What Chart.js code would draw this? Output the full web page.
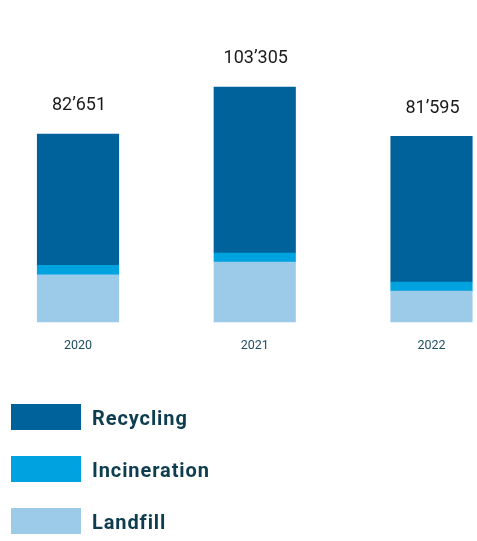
<!DOCTYPE html>
<html>
<head>
<meta charset="utf-8">
<script src="https://cdn.jsdelivr.net/npm/chart.js@4/dist/chart.umd.min.js"></script>
<style>
  html, body { margin: 0; padding: 0; background: #ffffff; }
  #wrap { width: 477px; height: 541px; position: relative; }
</style>
</head>
<body>
<div id="wrap"><canvas id="waste"></canvas></div>
<script>
// Waste by disposal route, tonnes per year
const years = ['2020', '2021', '2022'];
const landfill = [20750, 26360, 13550];
const incineration = [4150, 3970, 3970];
const recycling = [57751, 72975, 64075];

const seriesNames = ['Recycling', 'Incineration', 'Landfill'];
const seriesColors = ['#00629b', '#00a3e0', '#9ccbea'];

function fmt(n) {
  return String(n).replace(/\B(?=(\d{3})+(?!\d))/g, '\u2019');
}

// Totals above each stack
const totalLabels = {
  id: 'totalLabels',
  afterDatasetsDraw(chart) {
    const ctx = chart.ctx;
    const topMeta = chart.getDatasetMeta(chart.data.datasets.length - 1);
    ctx.save();
    ctx.font = '18px Roboto';
    ctx.fillStyle = '#1a1a1a';
    ctx.textAlign = 'center';
    ctx.textBaseline = 'middle';
    years.forEach((y, i) => {
      const total = chart.data.datasets.reduce((s, ds) => s + ds.data[i], 0);
      const bar = topMeta.data[i];
      ctx.fillText(fmt(total), bar.x + 1, bar.y - 28);
    });
    ctx.restore();
  }
};

// Vertical legend under the plot
const sideLegend = {
  id: 'sideLegend',
  afterDraw(chart) {
    const ctx = chart.ctx;
    ctx.save();
    ctx.font = 'bold 20px Roboto';
    ctx.textBaseline = 'middle';
    ctx.textAlign = 'left';
    seriesNames.forEach((name, i) => {
      const y = 404 + i * 52;
      ctx.fillStyle = seriesColors[i];
      ctx.fillRect(11, y, 70, 26);
      ctx.fillStyle = '#0d3d4f';
      if ('letterSpacing' in ctx) ctx.letterSpacing = '0.9px';
      ctx.fillText(name, 92, y + 16);
    });
    ctx.restore();
  }
};

new Chart(document.getElementById('waste'), {
  type: 'bar',
  data: {
    labels: years,
    datasets: [
      { label: 'Landfill', data: landfill, backgroundColor: seriesColors[2] },
      { label: 'Incineration', data: incineration, backgroundColor: seriesColors[1] },
      { label: 'Recycling', data: recycling, backgroundColor: seriesColors[0] }
    ]
  },
  options: {
    responsive: true,
    maintainAspectRatio: false,
    animation: false,
    layout: { padding: { top: 49, left: 78, right: 45.5, bottom: 171 } },
    datasets: { bar: { barThickness: 81.5, clip: false, borderWidth: 0 } },
    plugins: {
      legend: { display: false },
      tooltip: { enabled: false }
    },
    scales: {
      x: {
        stacked: true,
        offset: false,
        grid: { display: false, drawTicks: false },
        border: { display: false },
        ticks: {
          padding: 16.5,
          color: '#1f4e5f',
          font: { family: 'Roboto', size: 12.5 }
        }
      },
      y: {
        stacked: true,
        display: false,
        min: 0,
        max: 120000
      }
    }
  },
  plugins: [totalLabels, sideLegend]
});
</script>
</body>
</html>
